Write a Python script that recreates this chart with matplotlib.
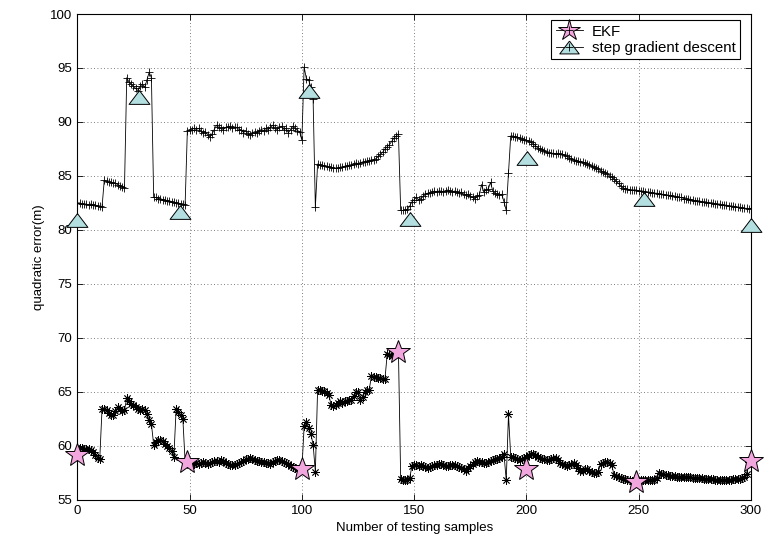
import numpy as np
import matplotlib
matplotlib.use("Agg")
import matplotlib.pyplot as plt
from matplotlib.lines import Line2D
from matplotlib.legend_handler import HandlerTuple

plt.rcParams['font.family'] = ['Liberation Sans', 'DejaVu Sans']

# step gradient descent series (samples 0..300)
gd_values = [
    82.5, 82.5, 82.4, 82.4, 82.4, 82.3, 82.4, 82.3, 82.3, 82.2, 82.2, 82.1,
    84.6, 84.5, 84.4, 84.4, 84.3, 84.3, 84.2, 84.1, 84.0, 83.9,
    94.1, 93.7, 93.5, 93.3, 93.1, 92.9, 93.3, 93.5, 93.2, 93.9, 94.6, 94.1,
    83.0, 83.0, 82.9, 82.9, 82.8, 82.8, 82.7, 82.7, 82.6, 82.6, 82.5, 82.5, 82.4, 82.4, 82.3,
    89.2, 89.3, 89.3, 89.4, 89.3, 89.4, 89.2, 89.0, 89.1, 88.8, 88.6, 88.9, 89.3, 89.7,
    89.5, 89.4, 89.3, 89.5, 89.5, 89.6, 89.4, 89.5, 89.5, 89.3, 89.3, 89.0, 89.2, 88.9,
    88.8, 89.0, 89.1, 89.0, 89.2, 89.3, 89.2, 89.4, 89.3, 89.5, 89.7, 89.4, 89.3, 89.5,
    89.6, 89.3, 89.4, 89.0, 89.3, 89.6, 89.4, 89.2, 89.1, 88.3,
    95.1, 94.0, 93.9, 93.2, 92.1, 82.1, 86.1,
    86.0, 86.0, 85.9, 85.9, 85.8, 85.8, 85.7, 85.7, 85.7, 85.8, 85.8, 85.9, 85.9, 86.0,
    86.0, 86.1, 86.2, 86.1, 86.2, 86.3, 86.3, 86.4, 86.4, 86.5, 86.5, 86.6, 86.8, 87.0,
    87.2, 87.5, 87.7, 87.9, 88.2, 88.5, 88.7, 88.9,
    81.8, 81.8, 81.8, 81.9, 82.2,
    82.6, 82.8, 83.0, 82.8, 82.9, 83.1, 83.3, 83.4, 83.4, 83.5, 83.6, 83.5, 83.6, 83.6,
    83.5, 83.6, 83.7, 83.6, 83.5, 83.6, 83.5, 83.4, 83.5, 83.3, 83.2, 83.3, 83.1, 83.0,
    82.9, 83.1, 83.2, 84.2, 83.5, 83.7, 83.8, 84.4, 83.6, 83.4, 83.3, 83.2, 83.3, 82.6,
    81.8, 85.3, 88.7,
    88.7, 88.6, 88.6, 88.5, 88.4, 88.3, 88.3, 88.2, 88.1, 88.0, 87.8, 87.6, 87.5, 87.4,
    87.3, 87.2, 87.1, 87.1, 87.1, 87.0, 87.1, 87.0, 87.0, 86.9, 86.8, 86.7, 86.6, 86.5,
    86.4, 86.4, 86.3, 86.3, 86.2,
    86.1, 86.0, 85.9, 85.8, 85.7, 85.6, 85.5, 85.4, 85.3, 85.2, 85.0, 84.9, 84.7, 84.5,
    84.3, 84.1, 83.9, 83.8, 83.8, 83.7, 83.7, 83.7, 83.7, 83.6, 83.6, 83.6, 83.5, 83.5,
    83.5, 83.4, 83.4, 83.4, 83.3, 83.3, 83.3, 83.2, 83.2, 83.2, 83.1, 83.1, 83.0, 83.0,
    83.0, 82.9, 82.9, 82.9, 82.8, 82.8, 82.7, 82.7, 82.7, 82.6, 82.6, 82.6, 82.5, 82.5,
    82.5, 82.4, 82.4, 82.4, 82.3, 82.3, 82.3, 82.2, 82.2, 82.2, 82.1, 82.1, 82.1, 82.0,
    82.0, 82.0, 81.9, 82.0,
]

# EKF series (samples 0..300)
ekf_values = [
    59.8, 59.8, 59.8, 59.7, 59.7, 59.7, 59.6, 59.4, 59.1, 58.9, 58.8,
    63.4, 63.4, 63.3, 63.0, 62.8, 62.8, 63.2, 63.6, 63.4, 63.2, 63.3,
    64.4, 64.1, 63.9, 63.8, 63.6, 63.4, 63.3, 63.4, 63.3, 62.9, 62.4, 62.0,
    60.1, 60.3, 60.5, 60.5, 60.4, 60.2, 60.0, 59.8, 59.5, 59.0,
    63.4, 63.1, 62.8, 62.5,
    58.5, 58.4, 58.2, 58.3, 58.3, 58.4, 58.3, 58.4, 58.5, 58.4, 58.3, 58.4, 58.5, 58.6,
    58.6, 58.5, 58.7, 58.6, 58.4, 58.3, 58.2, 58.2, 58.2, 58.3, 58.4, 58.5, 58.6, 58.8,
    58.8, 58.9, 58.8, 58.7, 58.6, 58.6, 58.5, 58.5, 58.4, 58.4, 58.3, 58.5, 58.6, 58.7,
    58.7, 58.6, 58.5, 58.4, 58.3, 58.1, 58.0, 57.9, 57.8, 57.7, 57.8,
    61.8, 62.2, 61.6, 61.1, 60.1, 57.6,
    65.2, 65.2, 65.1, 65.1, 64.9, 64.7, 63.8, 63.7, 63.8, 64.0, 64.1, 64.0, 64.1, 64.1,
    64.2, 64.2, 64.6, 65.0, 65.0, 64.2, 64.5, 65.0, 65.2, 65.2, 66.5, 66.4, 66.4, 66.3,
    66.3, 66.2, 66.2, 68.5, 68.4, 68.3, 68.5, 68.6, 68.7,
    56.9, 56.8, 56.8, 56.8, 57.0,
    58.1, 58.2, 58.2, 58.1, 58.2, 58.1, 58.0, 57.9, 58.0, 58.1, 58.2, 58.2, 58.3, 58.3,
    58.2, 58.1, 58.1, 58.2, 58.2, 58.2, 58.1, 58.0, 57.9, 57.8, 57.7, 57.9, 58.1, 58.3,
    58.5, 58.6, 58.5, 58.5, 58.4, 58.4, 58.5, 58.6, 58.7, 58.8, 58.8, 58.9, 59.0, 59.2,
    56.8, 62.9,
    59.0, 59.0, 58.9, 58.8, 58.7, 58.8, 58.9, 59.0, 59.1, 59.2, 59.2, 59.1, 59.0, 58.9,
    58.8, 58.8, 58.7, 58.7, 58.8, 58.9, 58.9, 58.7, 58.4, 58.3, 58.2, 58.1, 58.2, 58.3,
    58.4, 58.2, 57.9, 57.7, 57.7, 57.8, 57.8, 57.7, 57.6, 57.5, 57.5, 57.6, 58.3, 58.4,
    58.5, 58.5, 58.4, 58.2, 57.3, 57.2, 57.1, 57.0, 56.9, 56.9, 56.8, 56.8, 56.7, 56.7,
    56.7, 56.7, 56.8, 56.8, 56.8, 56.8, 56.8, 56.8, 56.8, 57.0, 57.5, 57.4, 57.4, 57.3,
    57.3, 57.2, 57.2, 57.2, 57.1, 57.1, 57.1, 57.1, 57.1, 57.1, 57.1, 57.0, 57.0, 57.0,
    57.0, 57.0, 56.9, 56.9, 56.9, 56.9, 56.9, 56.8, 56.8, 56.8, 56.8, 56.8, 56.8, 56.8,
    56.8, 56.9, 56.9, 56.9, 56.9, 57.0, 57.1, 57.4, 58.5, 58.7,
]

# highlighted big markers
ekf_star_x = [0, 49, 100, 143, 200, 249, 300]
ekf_star_y = [59.15, 58.45, 57.85, 68.65, 57.8, 56.65, 58.55]
gd_tri_x = [0, 27.5, 45.7, 103.3, 148, 200.4, 252.2, 300]
gd_tri_y = [80.95, 92.35, 81.65, 92.9, 81.0, 86.7, 82.9, 80.45]

xticks = [0, 50, 100, 150, 200, 250, 300]
yticks = [55, 60, 65, 70, 75, 80, 85, 90, 95, 100]
labels = ['EKF', 'step gradient descent']

fig = plt.figure(figsize=(7.81, 5.5), dpi=100)
ax = fig.add_axes([0.099, 0.0915, 0.8626, 0.883])

x_gd = np.arange(len(gd_values))
x_ekf = np.arange(len(ekf_values))

asterisk = (8, 2, 0)
ax.plot(x_gd, gd_values, color='black', lw=0.6, marker='+', ms=6, mew=0.6)
ax.plot(x_ekf, ekf_values, color='black', lw=0.6, marker=asterisk, ms=6, mew=0.6)

tri_marker = [(0, 0.66), (-1, -0.66), (1, -0.66), (0, 0.66)]
ax.plot(gd_tri_x, gd_tri_y, ls='none', marker=tri_marker, ms=15,
        mfc='#b3dfe0', mec='black', mew=0.7, clip_on=False, zorder=5)
ax.plot(ekf_star_x, ekf_star_y, ls='none', marker='*', ms=18,
        mfc='#f2a6de', mec='black', mew=0.7, clip_on=False, zorder=5)

ax.set_xlim(0, 300)
ax.set_ylim(55, 100)
ax.set_xticks(xticks)
ax.set_yticks(yticks)
ax.tick_params(direction='in', top=True, right=True, labelsize=9.5, length=4, width=0.6)
ax.grid(True, linestyle=(0, (1, 3)), color='#555555', lw=0.6)
for s in ax.spines.values():
    s.set_linewidth(0.8)

ax.set_xlabel('Number of testing samples', fontsize=9.5)
ax.set_ylabel('quadratic error(m)', fontsize=9.5)

h_ekf = (Line2D([], [], color='black', lw=0.6),
         Line2D([], [], ls='none', marker='*', ms=16, mfc='#f2a6de', mec='black', mew=0.7),
         Line2D([], [], ls='none', marker='+', ms=6, color='black', mew=0.6))
h_gd = (Line2D([], [], color='black', lw=0.6),
        Line2D([], [], ls='none', marker=tri_marker, ms=14, mfc='#b3dfe0', mec='black', mew=0.7),
        Line2D([], [], ls='none', marker='+', ms=6, color='black', mew=0.6))
leg = ax.legend([h_ekf, h_gd], labels, handler_map={tuple: HandlerTuple(ndivide=1, pad=0)},
                loc='upper right', bbox_to_anchor=(0.9886, 0.9935), fontsize=10.8,
                fancybox=False, framealpha=1, edgecolor='black', borderpad=0.3,
                labelspacing=0.15, handlelength=1.8, handletextpad=0.6, borderaxespad=0.2)
leg.get_frame().set_linewidth(0.8)

fig.savefig('out.png', dpi=100)
